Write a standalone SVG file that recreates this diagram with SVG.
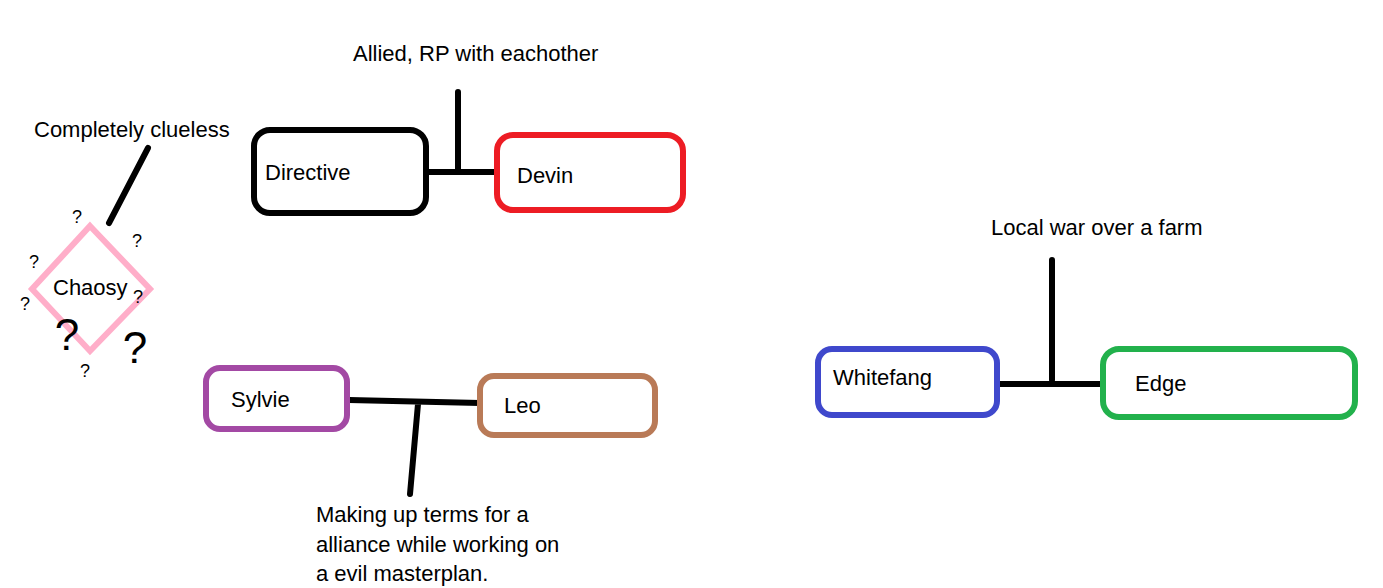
<svg xmlns="http://www.w3.org/2000/svg" width="1383" height="588" viewBox="0 0 1383 588">
<style>
text{font-family:"Liberation Sans",Arial,sans-serif;font-size:22px;fill:#000}
.box{fill:#fff;stroke-width:6}
.ln{stroke:#000;stroke-width:6;stroke-linecap:round;fill:none}
.q{font-size:18px;text-anchor:middle}
.Q{font-size:44px;text-anchor:middle}
</style>
<rect width="1383" height="588" fill="#fff"/>
<g id="connectors">
<path class="ln" d="M429 172 H500 M458 92 V170"/>
<path class="ln" d="M148 148 L109 223"/>
<path class="ln" d="M349 400 L480 403 M418 404 L410 494"/>
<path class="ln" d="M1000 384 H1104 M1052 260 V380"/>
</g>
<g id="label-allied"><text x="353" y="61">Allied, RP with eachother</text></g>
<g id="label-clueless"><text x="34" y="137">Completely clueless</text></g>
<g id="label-war"><text x="991" y="235">Local war over a farm</text></g>
<g id="label-making"><text x="316" y="522">Making up terms for a</text><text x="316" y="552">alliance while working on</text><text x="316" y="581">a evil masterplan.</text></g>
<g id="directive"><rect class="box" x="254" y="130" width="172" height="83" rx="16" stroke="#000"/><text x="265" y="180">Directive</text></g>
<g id="devin"><rect class="box" x="497" y="135" width="186" height="75" rx="16" stroke="#ed1c24"/><text x="517" y="183">Devin</text></g>
<g id="chaosy"><polygon points="90,226 150,289 90,351 32,289" fill="none" stroke="#ffaec9" stroke-width="6"/><text x="53" y="295">Chaosy</text>
<text class="q" x="77" y="223">?</text><text class="q" x="137" y="247">?</text><text class="q" x="34" y="268">?</text><text class="q" x="25" y="310">?</text><text class="q" x="138" y="303">?</text><text class="q" x="85" y="377">?</text>
<text class="Q" x="67" y="350">?</text><text class="Q" x="135" y="363">?</text></g>
<g id="sylvie"><rect class="box" x="206" y="368" width="141" height="61" rx="14" stroke="#a349a4"/><text x="231" y="407">Sylvie</text></g>
<g id="leo"><rect class="box" x="480" y="376" width="175" height="59" rx="14" stroke="#b97a57"/><text x="504" y="413">Leo</text></g>
<g id="whitefang"><rect class="box" x="818" y="349" width="179" height="66" rx="14" stroke="#3f48cc"/><text x="833" y="385">Whitefang</text></g>
<g id="edge"><rect class="box" x="1103" y="349" width="252" height="68" rx="16" stroke="#22b14c"/><text x="1135" y="391">Edge</text></g>
</svg>
